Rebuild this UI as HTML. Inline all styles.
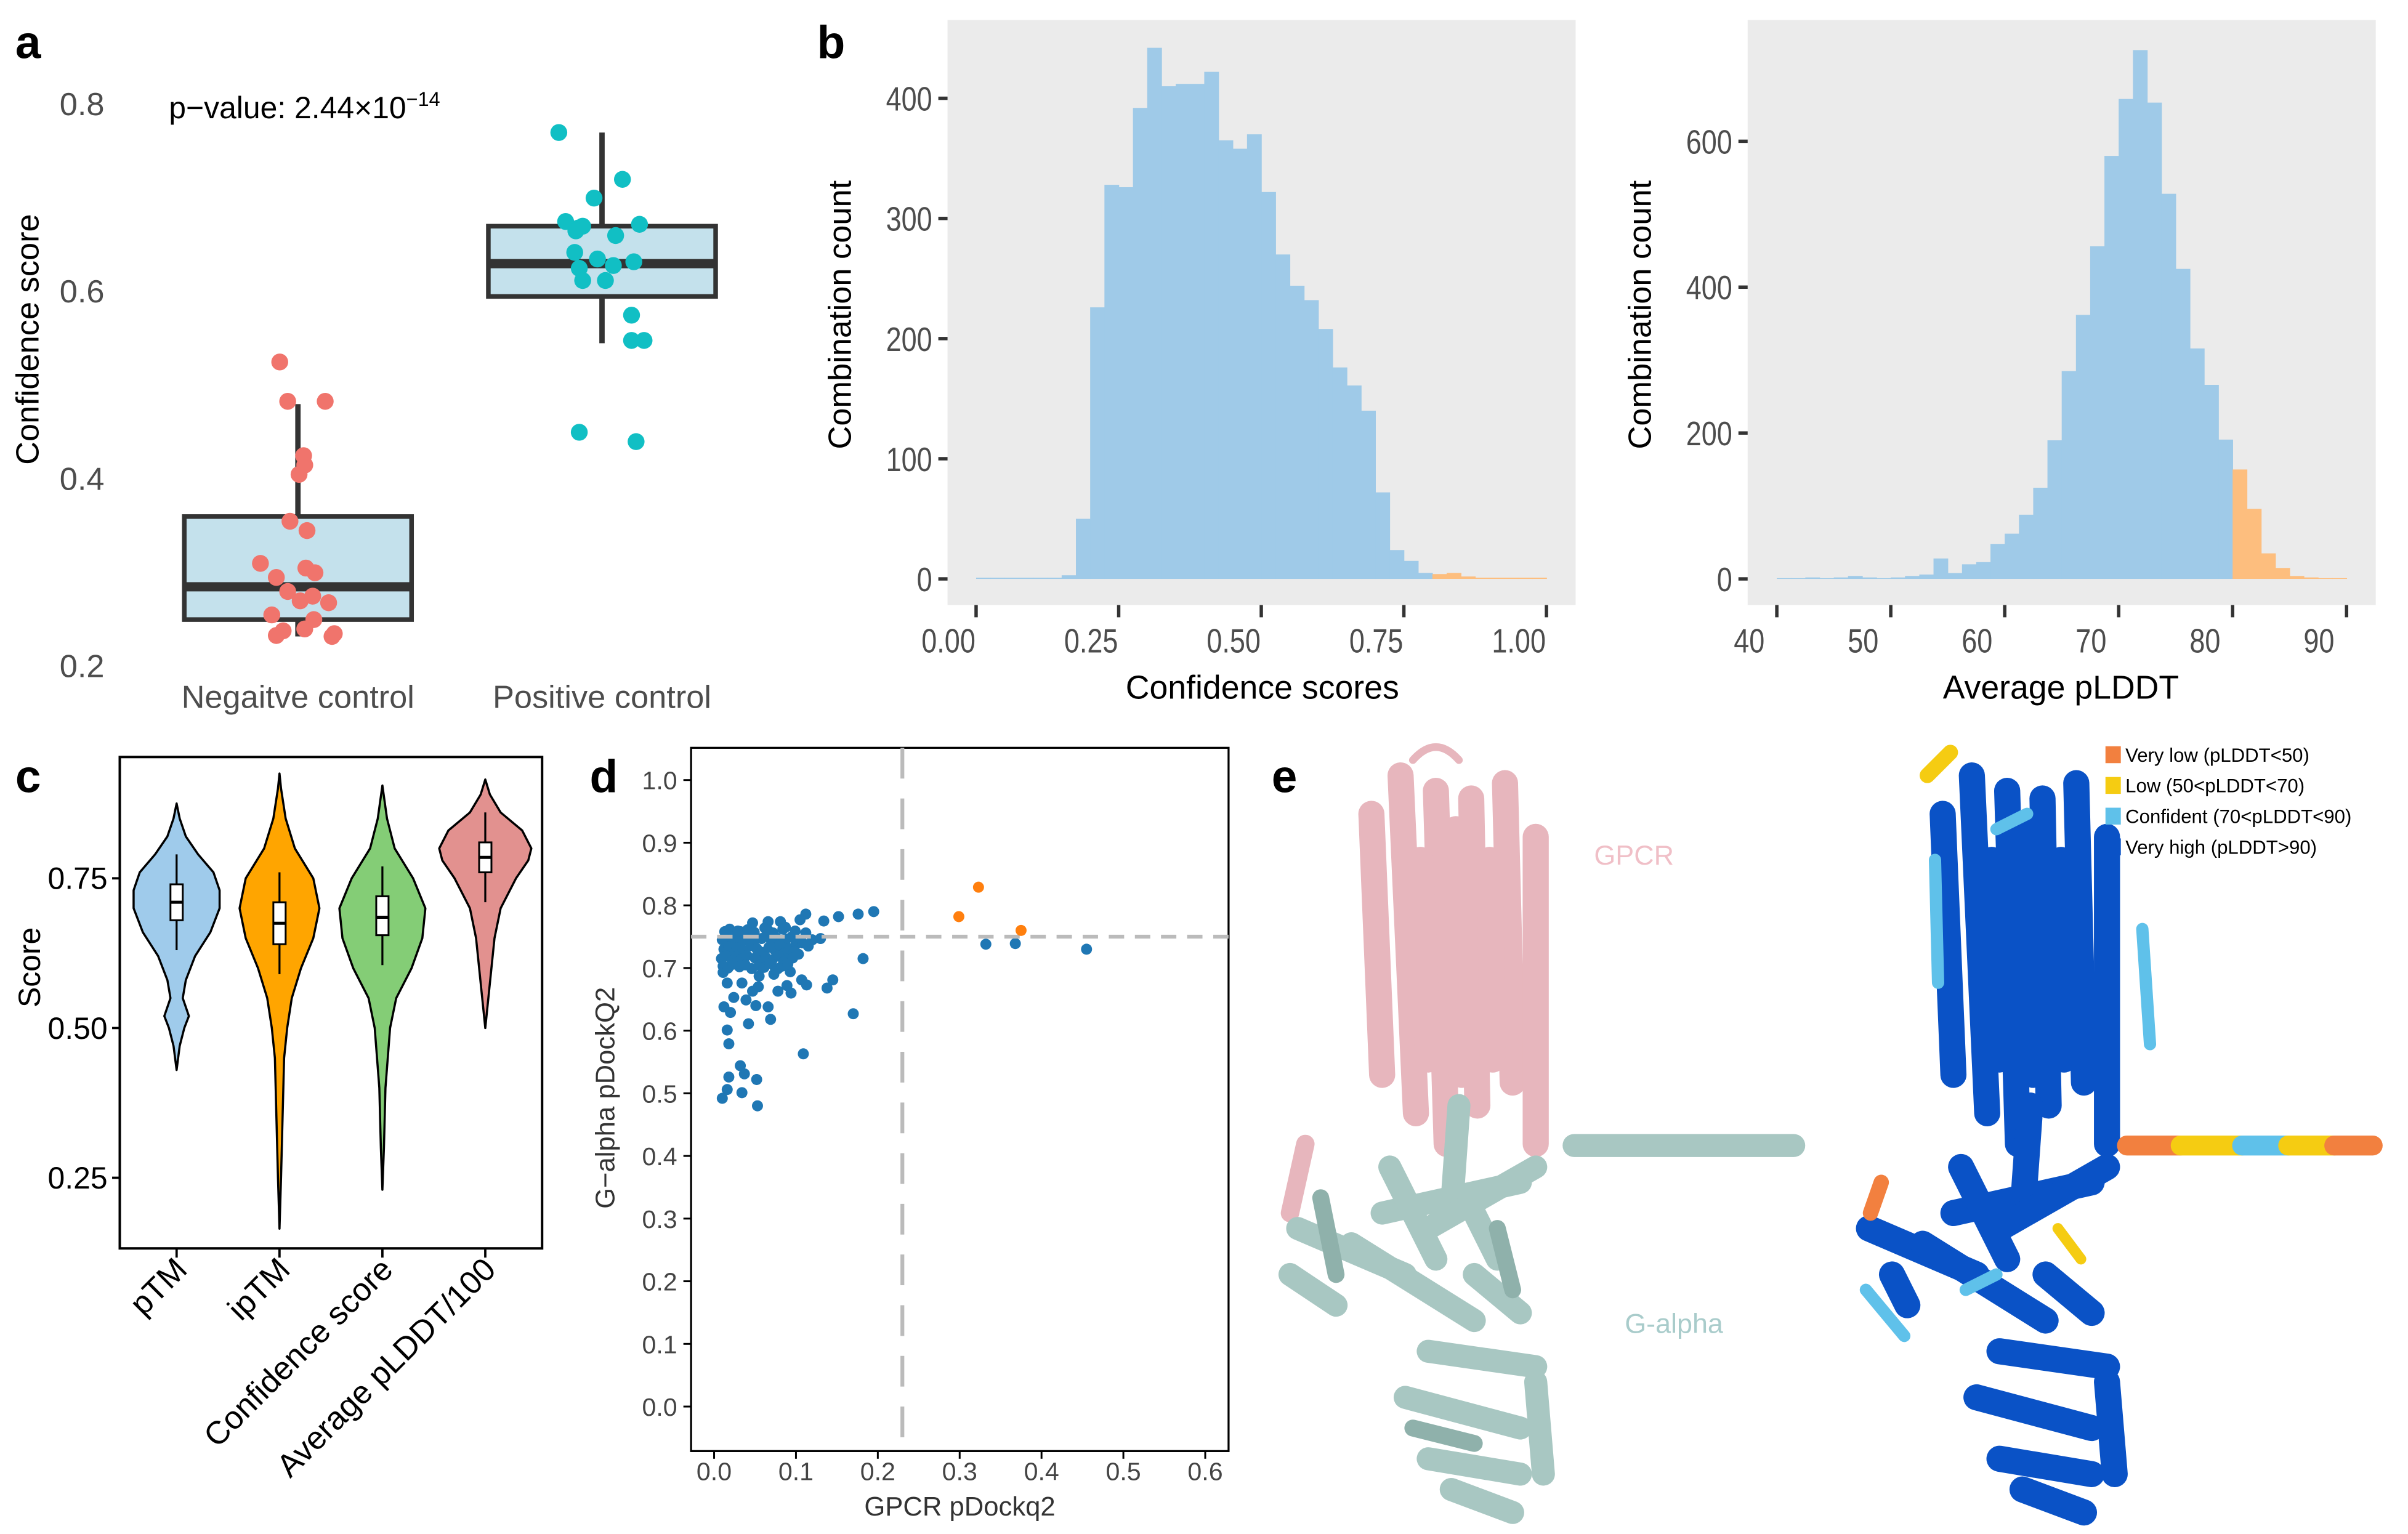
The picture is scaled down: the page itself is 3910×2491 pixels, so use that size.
<!DOCTYPE html>
<html><head><meta charset="utf-8">
<style>
html,body{margin:0;padding:0;background:#fff;}
svg{display:block;font-family:"Liberation Sans",Arial,sans-serif;}
</style></head>
<body>
<svg id="fig" width="3910" height="2491" viewBox="0 0 1568 999" preserveAspectRatio="none" xmlns="http://www.w3.org/2000/svg">
<rect x="0" y="0" width="1568" height="999" fill="#fff"/>
<text x="10" y="38" font-size="30" font-weight="bold">a</text>
<text x="532" y="38" font-size="30" font-weight="bold">b</text>
<text x="10" y="516" font-size="30" font-weight="bold">c</text>
<text x="384" y="516" font-size="30" font-weight="bold">d</text>
<text x="828" y="516" font-size="30" font-weight="bold">e</text>

<g id="pa"></g>
<g id="pb1"></g>
<g id="pb2"></g>
<g id="pc"></g>
<g id="pd"></g>

<g id="pe">
 <g stroke-linecap="round" fill="none">
  <g stroke="#e7b6bd" stroke-width="17">
   <path d="M893 530 L900 700"/><path d="M912 505 L922 725"/><path d="M935 515 L942 745"/>
   <path d="M958 520 L962 720"/><path d="M980 510 L985 705"/><path d="M1000 545 L1000 745"/>
   <path d="M925 560 L930 690"/><path d="M948 540 L952 700"/><path d="M970 560 L972 690"/>
   <path d="M920 495 Q935 478 950 495" stroke-width="5"/><path d="M850 745 L840 790" stroke-width="12"/>
  </g>
  <g stroke="#a8c7c2" stroke-width="15">
   <path d="M1025 746 L1168 746"/>
   <path d="M950 720 L945 790"/><path d="M900 790 L990 770"/><path d="M845 800 L915 830"/>
   <path d="M880 810 L960 860"/><path d="M930 800 L1000 760"/><path d="M960 830 L990 855"/>
   <path d="M840 830 L870 850"/><path d="M930 880 L1000 890"/><path d="M915 910 L990 930"/>
   <path d="M930 950 L990 960"/><path d="M945 970 L985 985"/><path d="M1000 900 L1005 960"/>
   <path d="M905 760 L935 820"/><path d="M960 790 L975 820"/>
  </g>
  <g stroke="#8fb1ab" stroke-width="11">
   <path d="M860 780 L870 830"/><path d="M975 800 L985 840"/><path d="M920 930 L960 940"/>
  </g>
 </g>
 <g stroke-linecap="round" fill="none">
  <g stroke="#0a52c6" stroke-width="17">
   <path d="M1265 530 L1272 700"/><path d="M1284 505 L1294 725"/><path d="M1307 515 L1314 745"/>
   <path d="M1330 520 L1334 720"/><path d="M1352 510 L1357 705"/><path d="M1372 545 L1372 745"/>
   <path d="M1297 560 L1302 690"/><path d="M1320 540 L1324 700"/><path d="M1342 560 L1344 690"/>
   <path d="M1322 720 L1317 790"/><path d="M1272 790 L1362 770"/><path d="M1217 800 L1287 830"/>
   <path d="M1252 810 L1332 860"/><path d="M1302 800 L1372 760"/><path d="M1332 830 L1362 855"/>
   <path d="M1302 880 L1372 890"/><path d="M1287 910 L1362 930"/><path d="M1302 950 L1362 960"/>
   <path d="M1317 970 L1357 985"/><path d="M1372 900 L1377 960"/><path d="M1232 830 L1242 850"/>
   <path d="M1277 760 L1307 820"/>
  </g>
  <g stroke="#5fc1ea" stroke-width="8">
   <path d="M1260 560 L1262 640"/><path d="M1300 540 L1320 530"/><path d="M1215 840 L1240 870"/>
   <path d="M1280 840 L1300 830"/><path d="M1395 605 L1400 680"/>
  </g>
  <path d="M1385 746 L1420 746" stroke="#f2803f" stroke-width="13"/>
  <path d="M1420 746 L1460 746" stroke="#f5cc12" stroke-width="13"/>
  <path d="M1460 746 L1490 746" stroke="#5fc1ea" stroke-width="13"/>
  <path d="M1490 746 L1520 746" stroke="#f5cc12" stroke-width="13"/>
  <path d="M1520 746 L1545 746" stroke="#f2803f" stroke-width="13"/>
  <path d="M1255 505 L1270 490" stroke="#f5cc12" stroke-width="10"/>
  <path d="M1225 770 L1218 790" stroke="#f2803f" stroke-width="10"/>
  <path d="M1340 800 L1355 820" stroke="#f5cc12" stroke-width="7"/>
 </g>
 <text x="1038" y="563" font-size="18" fill="#f0bfc7">GPCR</text>
 <text x="1058" y="868" font-size="18" fill="#a9cccb">G-alpha</text>
 <g font-size="12.5">
  <rect x="1371" y="486" width="10" height="11" fill="#f2803f"/>
  <text x="1384" y="496">Very low (pLDDT&lt;50)</text>
  <rect x="1371" y="506" width="10" height="11" fill="#f5cc12"/>
  <text x="1384" y="516">Low (50&lt;pLDDT&lt;70)</text>
  <rect x="1371" y="526" width="10" height="11" fill="#5fc1ea"/>
  <text x="1384" y="536">Confident (70&lt;pLDDT&lt;90)</text>
  <rect x="1371" y="546" width="10" height="11" fill="#0a52c6"/>
  <text x="1384" y="556">Very high (pLDDT&gt;90)</text>
 </g>
</g>
</svg>
<script>
const NS='http://www.w3.org/2000/svg';
function mk(parent,tag,attrs,txt){const e=document.createElementNS(NS,tag);for(const k in attrs)e.setAttribute(k,attrs[k]);if(txt!==undefined)e.textContent=txt;parent.appendChild(e);return e;}

// ---------- Panel a data ----------
const aCategories=['Negaitve control','Positive control'];
const aNegValues=[0.525,0.483,0.483,0.425,0.415,0.405,0.355,0.345,0.31,0.305,0.3,0.295,0.28,0.275,0.27,0.268,0.255,0.25,0.24,0.238,0.235,0.233,0.232];
const aNegJitter=[-0.16,-0.09,0.24,0.05,0.06,0.01,-0.07,0.08,-0.33,0.07,0.15,-0.19,-0.09,0.13,0.02,0.27,-0.23,0.14,0.06,-0.13,0.32,-0.19,0.30];
const aPosValues=[0.77,0.72,0.70,0.675,0.668,0.67,0.66,0.665,0.672,0.642,0.635,0.632,0.628,0.625,0.612,0.612,0.575,0.548,0.548,0.45,0.44];
const aPosJitter=[-0.38,0.18,-0.07,-0.32,-0.21,-0.17,0.12,-0.23,0.33,-0.24,-0.04,0.28,0.1,-0.2,-0.17,0.03,0.26,0.26,0.37,-0.2,0.3];
const aBoxStats=[[0.232,0.25,0.285,0.36,0.48],[0.545,0.595,0.63,0.67,0.77]];
const aTicks=[0.2,0.4,0.6,0.8];

(function(){
 const g=document.getElementById('pa');
 const y=v=>434-(v-0.2)*610;
 const cx=[194,392], hw=74;
 aTicks.forEach(t=>{const e=mk(g,'text',{x:68,y:y(t)+7,'font-size':21,fill:'#4d4d4d','text-anchor':'end'},t.toFixed(1));
  
  });
 const yt=mk(g,'text',{x:0,y:0,'font-size':21,'text-anchor':'middle',transform:'translate(25,221) rotate(-90)'},'Confidence score');
 
 
 aBoxStats.forEach((s,i)=>{
  const w=mk(g,'line',{x1:cx[i],x2:cx[i],y1:y(s[0]),y2:y(s[4]),stroke:'#333','stroke-width':3.5});
  
  
  const b=mk(g,'rect',{x:cx[i]-hw,y:y(s[3]),width:2*hw,height:y(s[1])-y(s[3]),fill:'#c4e1ec',stroke:'#333','stroke-width':3});
  
  
  const m=mk(g,'line',{x1:cx[i]-hw,x2:cx[i]+hw,y1:y(s[2]),y2:y(s[2]),stroke:'#333','stroke-width':6});
  
  
  const l=mk(g,'text',{x:cx[i],y:461,'font-size':21,fill:'#4d4d4d','text-anchor':'middle'},aCategories[i]);
  
  
 });
 aNegValues.forEach((v,i)=>{const p=mk(g,'circle',{cx:cx[0]+aNegJitter[i]*hw,cy:y(v),r:5.5,fill:'#f0746c'});
  
  });
 aPosValues.forEach((v,i)=>{const p=mk(g,'circle',{cx:cx[1]+aPosJitter[i]*hw,cy:y(v),r:5.5,fill:'#11bfc4'});
  
  });
 const pv=mk(g,'text',{x:110,y:77,'font-size':20},'p\u2212value: 2.44\u00d710');
 
 
 mk(pv,'tspan',{dy:-8,'font-size':13},'\u221214');
})();

// ---------- Panel b data ----------
const b1Counts=[1,1,1,1,1,1,3,50,226,328,326,392,442,410,412,412,422,365,358,370,322,270,244,232,208,176,161,140,72,24,15,5,4,5,2,1,1,1,1,1];
const b1Start=0, b1Width=0.025, b1Cut=0.8;
const b1XTicks=[0,0.25,0.5,0.75,1.0];
const b1YTicks=[0,100,200,300,400];
const b2Counts=[1,1,2,1,2,4,2,1,2,4,6,28,8,20,23,48,62,88,125,190,285,362,456,580,658,725,653,528,425,316,266,191,150,96,35,15,4,2,1,1];
const b2Start=40, b2Width=1.25, b2Cut=80;
const b2XTicks=[40,50,60,70,80,90];
const b2YTicks=[0,200,400,600];

function hist(id,counts,start,width,cut,xt,yt,xfmt,bg,xmap,ymap,ylab,xlab,xlabCenter){
 const g=document.getElementById(id);
 const r=mk(g,'rect',{x:bg[0],y:bg[1],width:bg[2]-bg[0],height:bg[3]-bg[1],fill:'#ebebeb'});
 
 
 counts.forEach((c,i)=>{const x0=start+i*width;
  const b=mk(g,'rect',{x:xmap(x0),y:ymap(c),width:xmap(x0+width)-xmap(x0)+0.3,height:ymap(0)-ymap(c),fill:x0>=cut-1e-9?'#fdbe7e':'#9fcae8'});
  
  });
 xt.forEach(t=>{const l=mk(g,'line',{x1:xmap(t),x2:xmap(t),y1:bg[3],y2:bg[3]+8,stroke:'#333','stroke-width':2.2});
  
  
  const tx=mk(g,'text',{'font-size':22,fill:'#4d4d4d','text-anchor':'middle',transform:'translate('+(xmap(t)-18)+','+(bg[3]+31)+') scale(0.82,1)'},xfmt(t));
  
  });
 yt.forEach(t=>{const l=mk(g,'line',{x1:bg[0]-6,x2:bg[0],y1:ymap(t),y2:ymap(t),stroke:'#333','stroke-width':2.2});
  
  
  const tx=mk(g,'text',{'font-size':22,fill:'#4d4d4d','text-anchor':'end',transform:'translate('+(bg[0]-10)+','+(ymap(t)+8)+') scale(0.82,1)'},String(t));
  
  });
 const yti=mk(g,'text',{'font-size':21,'text-anchor':'middle',transform:'translate('+ylab+',205) rotate(-90)'},'Combination count');
 
 
 const xti=mk(g,'text',{x:xlabCenter,y:455,'font-size':21.5,'text-anchor':'middle'},xlab);
 
 
}
hist('pb1',b1Counts,b1Start,b1Width,b1Cut,b1XTicks,b1YTicks,t=>t.toFixed(2),[617,13,1026,394],
 v=>635.6+v*371.4, c=>377-c*0.7825, 554,'Confidence scores',822);
hist('pb2',b2Counts,b2Start,b2Width,b2Cut,b2XTicks,b2YTicks,t=>String(t),[1138,13,1547,394],
 v=>1157+(v-40)*7.42, c=>377-c*0.475, 1075,'Average pLDDT',1342);

// ---------- Panel c data ----------
const cCategories=['pTM','ipTM','Confidence score','Average pLDDT/100'];
const cColors=['#9fcbeb','#ffa500','#84cd76','#e2918f'];
const cPtmVals=[0.43,0.47,0.5,0.52,0.55,0.58,0.62,0.66,0.70,0.73,0.76,0.79,0.82,0.85,0.875];
const cPtmDens=[0,2,5,8,4,6,12,22,28,28,24,14,6,2,0];
const cIptmVals=[0.165,0.25,0.35,0.45,0.5,0.55,0.6,0.65,0.7,0.75,0.8,0.85,0.9,0.925];
const cIptmDens=[0,1,2,3,5,8,14,22,26,22,10,4,1,0];
const cConfVals=[0.23,0.3,0.4,0.5,0.55,0.6,0.65,0.7,0.75,0.8,0.85,0.905];
const cConfDens=[0,1,2,5,9,19,26,28,20,8,3,0];
const cPlddtVals=[0.5,0.55,0.6,0.65,0.7,0.75,0.78,0.8,0.83,0.86,0.89,0.915];
const cPlddtDens=[0,2,4,6,10,20,28,30,24,10,3,0];
const cBoxes=[[0.68,0.71,0.74],[0.64,0.675,0.71],[0.655,0.685,0.72],[0.76,0.785,0.81]];
const cTicks=[0.25,0.5,0.75];
(function(){
 const g=document.getElementById('pc');
 const y=v=>572-(v-0.75)*390;
 const xs=[115,182,249,316];
 const fr=mk(g,'rect',{x:78,y:493,width:275,height:320,fill:'none',stroke:'#000','stroke-width':1.6});
 
 
 cTicks.forEach(t=>{const l=mk(g,'line',{x1:73,x2:78,y1:y(t),y2:y(t),stroke:'#000','stroke-width':1.5});
  
  
  const tx=mk(g,'text',{x:70,y:y(t)+7,'font-size':20,'text-anchor':'end'},t.toFixed(2));
  
  });
 const yti=mk(g,'text',{'font-size':20,'text-anchor':'middle',transform:'translate(26,630) rotate(-90)'},'Score');
 
 
 const V=[[cPtmVals,cPtmDens],[cIptmVals,cIptmDens],[cConfVals,cConfDens],[cPlddtVals,cPlddtDens]];
 V.forEach((vd,i)=>{
  const [vals,dens]=vd;let d='';
  vals.forEach((v,j)=>{d+=(j?'L':'M')+(xs[i]+dens[j])+' '+y(v)+' ';});
  for(let j=vals.length-1;j>=0;j--)d+='L'+(xs[i]-dens[j])+' '+y(vals[j])+' ';
  const p=mk(g,'path',{d:d+'Z',fill:cColors[i],stroke:'#000','stroke-width':1.4,'stroke-linejoin':'round'});
  
  
  const b=cBoxes[i];
  const wl=mk(g,'line',{x1:xs[i],x2:xs[i],y1:y(b[0]-0.05),y2:y(b[2]+0.05),stroke:'#000','stroke-width':1.3});
  
  
  const r=mk(g,'rect',{x:xs[i]-4,y:y(b[2]),width:8,height:y(b[0])-y(b[2]),fill:'#fff',stroke:'#000','stroke-width':1.2});
  
  
  const m=mk(g,'line',{x1:xs[i]-4,x2:xs[i]+4,y1:y(b[1]),y2:y(b[1]),stroke:'#000','stroke-width':2});
  
  
  const t=mk(g,'line',{x1:xs[i],x2:xs[i],y1:813,y2:819,stroke:'#000','stroke-width':1.5});
  
  
  const lb=mk(g,'text',{'font-size':21,'text-anchor':'end',transform:'translate('+(xs[i]+8)+',828) rotate(-45)'},cCategories[i]);
  
  
 });
})();

// ---------- Panel d data ----------
const dBlueX=[0.332,0.368,0.455,0.195,0.176,0.152,0.134,0.112,0.105,0.182,0.170,0.109,0.145,0.138,0.113,0.107,0.130,0.112,
0.047,0.066,0.081,0.087,0.062,0.032,0.016,0.018,0.042,0.069,0.066,0.051,0.020,0.012,0.032,0.037,0.018,0.052,0.016,0.034,0.010,0.053,
0.078,0.094,0.089,0.055,0.054,0.047,0.039,0.024,0.034,0.016,0.011,0.073,0.093,0.078,
0.010,0.014,0.020,0.026,0.030,0.036,0.042,0.048,0.058,0.064,0.070,0.076,0.082,0.088,0.095,0.100,0.106,
0.012,0.018,0.024,0.028,0.035,0.045,0.052,0.060,0.067,0.074,0.080,0.086,0.092,0.098,
0.009,0.015,0.022,0.027,0.033,0.040,0.050,0.057,0.063,0.071,0.079,0.085,0.096,0.103,
0.011,0.017,0.023,0.031,0.038,0.046,0.055,0.061,0.068,0.075,0.083,0.090,
0.013,0.019,0.025,0.029,0.041,0.049,0.066,0.072,0.084,0.099,0.108,0.115,0.120];
const dBlueY=[0.738,0.739,0.730,0.790,0.786,0.782,0.775,0.786,0.777,0.715,0.627,0.563,0.681,0.668,0.673,0.681,0.747,0.756,
0.772,0.774,0.774,0.765,0.764,0.758,0.601,0.579,0.611,0.618,0.638,0.640,0.629,0.638,0.544,0.531,0.526,0.522,0.506,0.501,0.492,0.480,
0.663,0.660,0.672,0.687,0.670,0.663,0.649,0.653,0.676,0.676,0.693,0.690,0.694,0.699,
0.745,0.748,0.742,0.750,0.746,0.744,0.749,0.741,0.747,0.752,0.744,0.748,0.742,0.746,0.750,0.738,0.744,
0.730,0.734,0.726,0.732,0.728,0.736,0.731,0.725,0.733,0.729,0.737,0.724,0.731,0.727,
0.715,0.719,0.712,0.718,0.714,0.720,0.716,0.711,0.717,0.713,0.719,0.710,0.716,0.722,
0.703,0.700,0.706,0.702,0.705,0.699,0.704,0.701,0.707,0.698,0.703,0.706,
0.758,0.762,0.755,0.759,0.761,0.757,0.760,0.756,0.762,0.759,0.740,0.735,0.745];
const dOrangeX=[0.323,0.299,0.375];
const dOrangeY=[0.829,0.782,0.760];
const dXTicks=[0,0.1,0.2,0.3,0.4,0.5,0.6];
const dYTicks=[0,0.1,0.2,0.3,0.4,0.5,0.6,0.7,0.8,0.9,1.0];
const dThreshX=0.23, dThreshY=0.75;
(function(){
 const g=document.getElementById('pd');
 const x=v=>465+v*533, y=v=>916-v*408;
 const fr=mk(g,'rect',{x:450,y:487,width:350,height:458,fill:'none',stroke:'#000','stroke-width':1.3});
 
 
 dXTicks.forEach(t=>{const l=mk(g,'line',{x1:x(t),x2:x(t),y1:945,y2:950,stroke:'#000','stroke-width':1.2});
  
  
  const tx=mk(g,'text',{x:x(t),y:964,'font-size':16.5,fill:'#444','text-anchor':'middle'},t.toFixed(1));
  
  });
 dYTicks.forEach(t=>{const l=mk(g,'line',{x1:445,x2:450,y1:y(t),y2:y(t),stroke:'#000','stroke-width':1.2});
  
  
  const tx=mk(g,'text',{x:441,y:y(t)+6,'font-size':16.5,fill:'#444','text-anchor':'end'},t.toFixed(1));
  
  });
 const xt=mk(g,'text',{x:625,y:987,'font-size':17.5,fill:'#333','text-anchor':'middle'},'GPCR pDockq2');
 
 
 const yt=mk(g,'text',{'font-size':17.5,fill:'#333','text-anchor':'middle',transform:'translate(400,715) rotate(-90)'},'G\u2212alpha pDockQ2');
 
 
 dBlueX.forEach((v,i)=>{const c=mk(g,'circle',{cx:x(v),cy:y(dBlueY[i]),r:3.6,fill:'#1f77b4'});
  
  });
 const hl=mk(g,'line',{x1:450,x2:800,y1:y(dThreshY),y2:y(dThreshY),stroke:'#bbb','stroke-width':2.5,'stroke-dasharray':'10 7'});
 
 
 const vl=mk(g,'line',{x1:x(dThreshX),x2:x(dThreshX),y1:487,y2:945,stroke:'#bbb','stroke-width':2.5,'stroke-dasharray':'20 13'});
 
 
 dOrangeX.forEach((v,i)=>{const c=mk(g,'circle',{cx:x(v),cy:y(dOrangeY[i]),r:3.6,fill:'#ff7f0e'});
  
  });
})();
</script>
</body></html>
